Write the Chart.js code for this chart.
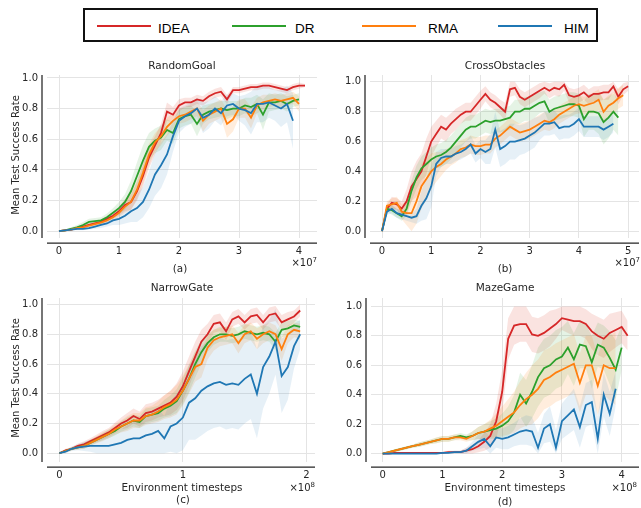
<!DOCTYPE html>
<html>
<head>
<meta charset="utf-8">
<title>IDEA vs DR vs RMA vs HIM</title>
<script src="https://cdn.jsdelivr.net/npm/chart.js"></script>
<style>
  body { margin: 0; background: #fff; width: 641px; height: 508px; position: relative; overflow: hidden; font-family: "DejaVu Sans", sans-serif; color: #262626; }
  canvas { position: absolute; }
  .t { position: absolute; transform: translate(-50%, -50%); white-space: nowrap; font-size: 10.5px; }
  .lab { position: absolute; transform: translate(-50%, -50%); white-space: nowrap; font-size: 10.4px; }
  .off { position: absolute; transform: translate(-100%, -50%); white-space: nowrap; font-size: 10px; }
  .ylab { position: absolute; transform: translate(-50%, -50%) rotate(-90deg); white-space: nowrap; font-size: 10px; }
  #legend { position: absolute; left: 83px; top: 8px; width: 511px; height: 30px; border: 2px solid #111; }
  .lg-line { position: absolute; height: 2px; width: 54px; }
  .lg-text { position: absolute; transform: translateY(-50%); font-family: "Liberation Sans", Arial, sans-serif; font-size: 13.5px; color: #000; }
</style>
</head>
<body>
<div id="legend"></div>

<canvas id="cA" width="325" height="200" style="left:0px;top:60px"></canvas>
<canvas id="cB" width="318" height="200" style="left:323px;top:60px"></canvas>
<canvas id="cC" width="325" height="200" style="left:0px;top:283px"></canvas>
<canvas id="cD" width="317" height="200" style="left:324px;top:283px"></canvas>

<div class="t" style="left:182px;top:65px">RandomGoal</div>
<div class="t" style="left:505px;top:65px">CrossObstacles</div>
<div class="t" style="left:182px;top:287px">NarrowGate</div>
<div class="t" style="left:505px;top:287px">MazeGame</div>

<div class="ylab" style="left:15px;top:155px">Mean Test Success Rate</div>
<div class="ylab" style="left:15px;top:378px">Mean Test Success Rate</div>

<div class="off" style="left:317px;top:262px">×10<sup style="font-size:7px">7</sup></div>
<div class="off" style="left:640px;top:262px">×10<sup style="font-size:7px">7</sup></div>
<div class="off" style="left:315px;top:487px">×10<sup style="font-size:7px">8</sup></div>
<div class="off" style="left:637px;top:487px">×10<sup style="font-size:7px">8</sup></div>

<div class="lab" style="left:182px;top:487px">Environment timesteps</div>
<div class="lab" style="left:505px;top:487px">Environment timesteps</div>

<div class="lab" style="left:180px;top:268px">(a)</div>
<div class="lab" style="left:505px;top:268px">(b)</div>
<div class="lab" style="left:183px;top:499px">(c)</div>
<div class="lab" style="left:505px;top:501px">(d)</div>

<script>
const seriesNames = ['IDEA', 'DR', 'RMA', 'HIM'];
const seriesColors = ['#d62728', '#2ca02c', '#ff7f0e', '#1f77b4'];
const bandColors = ['rgba(226,80,60,0.16)', 'rgba(44,160,44,0.12)', 'rgba(255,127,14,0.14)', 'rgba(31,119,180,0.11)'];
const yTicks = [0, 0.2, 0.4, 0.6, 0.8, 1.0];

// (a) RandomGoal, x in units of 1e7
const xA = [0,0.1,0.2,0.3,0.4,0.5,0.6,0.7,0.8,0.9,1.0,1.1,1.2,1.3,1.4,1.5,1.6,1.7,1.8,1.9,2.0,2.1,2.2,2.3,2.4,2.5,2.6,2.7,2.8,2.9,3.0,3.1,3.2,3.3,3.4,3.5,3.6,3.7,3.8,3.9,4.0,4.1];
const xTicksA = [0, 1, 2, 3, 4];
const ideaA = [0,0.005,0.01,0.02,0.03,0.04,0.05,0.06,0.08,0.1,0.13,0.17,0.19,0.26,0.36,0.48,0.56,0.64,0.78,0.76,0.82,0.84,0.84,0.86,0.85,0.88,0.9,0.91,0.86,0.92,0.92,0.93,0.94,0.94,0.95,0.95,0.94,0.93,0.92,0.94,0.95,0.95];
const ideaSdA = [0,0.005,0.005,0.01,0.01,0.01,0.01,0.015,0.02,0.02,0.03,0.04,0.05,0.06,0.07,0.07,0.06,0.06,0.06,0.05,0.04,0.03,0.03,0.03,0.03,0.03,0.03,0.03,0.03,0.02,0.02,0.02,0.02,0.02,0.02,0.02,0.02,0.02,0.02,0.02,0.02,0.01];
const drA = [0,0.005,0.015,0.025,0.04,0.06,0.065,0.07,0.09,0.12,0.15,0.19,0.26,0.36,0.46,0.55,0.59,0.61,0.66,0.64,0.73,0.75,0.76,0.7,0.76,0.78,0.79,0.8,0.79,0.8,0.8,0.82,0.81,0.83,0.76,0.84,0.84,0.85,0.83,0.85,0.86];
const drSdA = [0,0.005,0.01,0.015,0.02,0.02,0.02,0.02,0.025,0.03,0.04,0.05,0.07,0.09,0.1,0.09,0.08,0.08,0.07,0.07,0.06,0.06,0.06,0.08,0.06,0.05,0.05,0.05,0.06,0.05,0.05,0.05,0.06,0.06,0.1,0.06,0.05,0.05,0.05,0.04,0.04];
const rmaA = [0,0.005,0.01,0.02,0.025,0.035,0.045,0.055,0.07,0.09,0.12,0.16,0.19,0.27,0.38,0.5,0.58,0.62,0.68,0.72,0.75,0.76,0.78,0.8,0.72,0.76,0.78,0.8,0.7,0.73,0.8,0.8,0.74,0.82,0.84,0.85,0.86,0.85,0.86,0.87,0.83];
const rmaSdA = [0,0.005,0.01,0.01,0.015,0.015,0.02,0.02,0.02,0.025,0.03,0.04,0.05,0.06,0.07,0.07,0.06,0.06,0.06,0.05,0.05,0.05,0.05,0.05,0.07,0.06,0.06,0.06,0.09,0.08,0.06,0.06,0.07,0.05,0.05,0.04,0.04,0.04,0.04,0.04,0.05];
const himA = [0,0.005,0.01,0.015,0.015,0.02,0.03,0.04,0.05,0.07,0.08,0.1,0.13,0.15,0.19,0.27,0.37,0.43,0.5,0.62,0.72,0.75,0.77,0.8,0.74,0.76,0.8,0.77,0.82,0.83,0.8,0.79,0.77,0.83,0.83,0.84,0.82,0.8,0.83,0.72];
const himSdA = [0,0.005,0.005,0.01,0.01,0.01,0.015,0.02,0.02,0.03,0.04,0.05,0.07,0.09,0.1,0.12,0.14,0.15,0.13,0.1,0.08,0.07,0.07,0.07,0.1,0.09,0.08,0.08,0.07,0.07,0.08,0.1,0.14,0.12,0.12,0.1,0.1,0.12,0.12,0.18];

// (b) CrossObstacles, x in units of 1e7
const xB = [0,0.1,0.2,0.3,0.4,0.5,0.6,0.7,0.8,0.9,1.0,1.1,1.2,1.3,1.4,1.5,1.6,1.7,1.8,1.9,2.0,2.1,2.2,2.3,2.4,2.5,2.6,2.7,2.8,2.9,3.0,3.1,3.2,3.3,3.4,3.5,3.6,3.7,3.8,3.9,4.0,4.1,4.2,4.3,4.4,4.5,4.6,4.7,4.8,4.9,5.0];
const xTicksB = [0, 1, 2, 3, 4, 5];
const ideaB = [0,0.15,0.19,0.18,0.15,0.2,0.3,0.35,0.4,0.5,0.6,0.65,0.7,0.68,0.72,0.75,0.78,0.8,0.8,0.84,0.88,0.92,0.88,0.86,0.83,0.8,0.95,0.96,0.9,0.88,0.9,0.92,0.94,0.96,0.94,0.96,0.95,0.98,0.91,0.9,0.91,0.93,0.9,0.92,0.92,0.93,0.93,0.97,0.9,0.95,0.97];
const ideaSdB = [0,0.03,0.04,0.04,0.05,0.08,0.1,0.12,0.12,0.12,0.1,0.09,0.08,0.08,0.07,0.07,0.06,0.06,0.06,0.06,0.06,0.05,0.05,0.05,0.05,0.06,0.05,0.05,0.05,0.05,0.05,0.05,0.05,0.04,0.05,0.05,0.05,0.04,0.05,0.05,0.05,0.05,0.05,0.05,0.05,0.05,0.05,0.04,0.05,0.04,0.03];
const drB = [0,0.15,0.14,0.12,0.1,0.15,0.27,0.36,0.42,0.45,0.48,0.5,0.51,0.53,0.56,0.6,0.64,0.68,0.7,0.7,0.72,0.74,0.73,0.74,0.74,0.75,0.76,0.8,0.8,0.82,0.82,0.84,0.86,0.87,0.8,0.82,0.83,0.84,0.85,0.85,0.84,0.75,0.8,0.8,0.79,0.73,0.76,0.8,0.76];
const drSdB = [0,0.02,0.03,0.03,0.03,0.05,0.07,0.08,0.08,0.08,0.08,0.08,0.08,0.08,0.08,0.08,0.08,0.08,0.08,0.08,0.08,0.08,0.08,0.08,0.08,0.08,0.08,0.08,0.08,0.08,0.08,0.08,0.07,0.07,0.08,0.08,0.08,0.08,0.08,0.08,0.08,0.12,0.12,0.12,0.14,0.15,0.14,0.12,0.12];
const rmaB = [0,0.17,0.18,0.19,0.13,0.12,0.12,0.2,0.3,0.35,0.4,0.43,0.45,0.48,0.5,0.52,0.55,0.56,0.58,0.57,0.57,0.58,0.58,0.62,0.64,0.67,0.7,0.68,0.66,0.67,0.68,0.7,0.72,0.74,0.73,0.75,0.78,0.8,0.82,0.84,0.85,0.84,0.85,0.86,0.88,0.8,0.84,0.86,0.89,0.91];
const rmaSdB = [0,0.03,0.04,0.04,0.05,0.08,0.12,0.15,0.15,0.14,0.12,0.1,0.08,0.07,0.06,0.06,0.06,0.06,0.06,0.06,0.06,0.06,0.06,0.06,0.06,0.06,0.06,0.06,0.06,0.06,0.06,0.06,0.06,0.06,0.06,0.06,0.06,0.06,0.06,0.06,0.06,0.06,0.06,0.07,0.07,0.08,0.07,0.07,0.07,0.07];
const himB = [0,0.13,0.15,0.12,0.11,0.1,0.09,0.1,0.17,0.22,0.3,0.45,0.49,0.5,0.5,0.52,0.53,0.55,0.58,0.52,0.55,0.53,0.55,0.68,0.55,0.57,0.6,0.6,0.61,0.62,0.64,0.66,0.69,0.72,0.72,0.73,0.69,0.7,0.7,0.72,0.75,0.7,0.7,0.7,0.7,0.68,0.7,0.72];
const himSdB = [0,0.02,0.03,0.03,0.03,0.03,0.03,0.05,0.1,0.14,0.14,0.08,0.06,0.05,0.05,0.05,0.05,0.05,0.06,0.06,0.06,0.08,0.1,0.12,0.12,0.12,0.12,0.12,0.1,0.1,0.1,0.1,0.08,0.08,0.08,0.08,0.08,0.08,0.08,0.08,0.08,0.07,0.07,0.07,0.07,0.07,0.07,0.06];

// (c) NarrowGate, x in units of 1e8
const xC = [0,0.05,0.1,0.15,0.2,0.25,0.3,0.35,0.4,0.45,0.5,0.55,0.6,0.65,0.7,0.75,0.8,0.85,0.9,0.95,1.0,1.05,1.1,1.15,1.2,1.25,1.3,1.35,1.4,1.45,1.5,1.55,1.6,1.65,1.7,1.75,1.8,1.85,1.9,1.95];
const xTicksC = [0, 1, 2];
const ideaC = [0,0.02,0.03,0.05,0.06,0.08,0.1,0.12,0.14,0.17,0.2,0.22,0.25,0.23,0.27,0.28,0.3,0.32,0.34,0.38,0.45,0.55,0.65,0.75,0.8,0.87,0.88,0.82,0.9,0.92,0.88,0.92,0.93,0.88,0.93,0.94,0.88,0.9,0.92,0.96];
const ideaSdC = [0,0.01,0.01,0.015,0.02,0.02,0.025,0.03,0.03,0.035,0.04,0.05,0.05,0.05,0.06,0.06,0.06,0.07,0.08,0.09,0.1,0.1,0.1,0.08,0.07,0.06,0.06,0.06,0.05,0.05,0.05,0.05,0.05,0.05,0.05,0.05,0.05,0.05,0.04,0.04];
const drC = [0,0.015,0.03,0.04,0.05,0.07,0.09,0.11,0.13,0.15,0.18,0.2,0.22,0.21,0.25,0.26,0.27,0.3,0.32,0.35,0.42,0.5,0.6,0.68,0.74,0.78,0.8,0.8,0.79,0.8,0.82,0.81,0.8,0.81,0.8,0.75,0.83,0.84,0.86,0.85];
const drSdC = [0,0.01,0.01,0.015,0.02,0.02,0.02,0.025,0.03,0.03,0.035,0.04,0.04,0.04,0.05,0.05,0.05,0.06,0.07,0.08,0.09,0.09,0.09,0.08,0.06,0.05,0.05,0.05,0.05,0.05,0.05,0.05,0.05,0.05,0.05,0.06,0.05,0.05,0.04,0.04];
const rmaC = [0,0.015,0.03,0.04,0.05,0.07,0.09,0.11,0.13,0.16,0.18,0.2,0.22,0.22,0.25,0.26,0.28,0.31,0.33,0.36,0.42,0.5,0.58,0.6,0.71,0.76,0.78,0.79,0.8,0.74,0.8,0.82,0.77,0.8,0.82,0.8,0.7,0.8,0.83,0.82];
const rmaSdC = [0,0.01,0.01,0.015,0.02,0.02,0.025,0.03,0.03,0.035,0.04,0.05,0.05,0.05,0.06,0.06,0.07,0.08,0.09,0.1,0.1,0.1,0.1,0.09,0.08,0.07,0.06,0.06,0.06,0.07,0.06,0.06,0.07,0.06,0.06,0.06,0.08,0.06,0.05,0.05];
const himC = [0,0.01,0.03,0.04,0.045,0.05,0.05,0.05,0.05,0.06,0.07,0.09,0.1,0.1,0.12,0.13,0.15,0.1,0.18,0.2,0.24,0.34,0.37,0.42,0.45,0.47,0.48,0.46,0.47,0.46,0.5,0.53,0.4,0.58,0.65,0.75,0.52,0.58,0.72,0.8];
const himSdC = [0,0.01,0.015,0.02,0.03,0.04,0.05,0.06,0.07,0.08,0.09,0.1,0.11,0.12,0.13,0.14,0.15,0.15,0.17,0.2,0.22,0.25,0.28,0.3,0.3,0.3,0.3,0.3,0.3,0.3,0.3,0.3,0.3,0.28,0.25,0.22,0.25,0.22,0.15,0.1];

// (d) MazeGame, x in units of 1e8
const xD = [0,0.1,0.2,0.3,0.4,0.5,0.6,0.7,0.8,0.9,1.0,1.1,1.2,1.3,1.4,1.5,1.6,1.7,1.8,1.9,2.0,2.1,2.2,2.3,2.4,2.5,2.6,2.7,2.8,2.9,3.0,3.1,3.2,3.3,3.4,3.5,3.6,3.7,3.8,3.9,4.0,4.1];
const xTicksD = [0, 1, 2, 3, 4];
const ideaD = [0,0,0.005,0.005,0.005,0.005,0.005,0.005,0.005,0.005,0.005,0.01,0.01,0.01,0.02,0.03,0.05,0.08,0.12,0.22,0.42,0.78,0.87,0.88,0.88,0.81,0.8,0.82,0.85,0.88,0.92,0.91,0.9,0.9,0.88,0.83,0.8,0.78,0.82,0.84,0.86,0.8];
const ideaSdD = [0,0,0.005,0.005,0.005,0.005,0.005,0.005,0.005,0.005,0.005,0.01,0.01,0.01,0.02,0.03,0.04,0.06,0.08,0.12,0.15,0.14,0.13,0.12,0.12,0.12,0.12,0.12,0.12,0.1,0.08,0.09,0.1,0.1,0.1,0.12,0.13,0.13,0.13,0.12,0.11,0.1];
const drD = [0,0.01,0.02,0.03,0.04,0.05,0.06,0.07,0.08,0.09,0.1,0.1,0.11,0.12,0.11,0.12,0.14,0.15,0.16,0.17,0.19,0.22,0.28,0.4,0.34,0.42,0.52,0.58,0.6,0.64,0.66,0.72,0.64,0.74,0.73,0.62,0.74,0.72,0.65,0.57,0.72];
const drSdD = [0,0.005,0.01,0.01,0.01,0.01,0.015,0.015,0.015,0.02,0.02,0.02,0.02,0.02,0.02,0.03,0.04,0.05,0.06,0.07,0.08,0.1,0.12,0.15,0.16,0.18,0.2,0.2,0.2,0.2,0.2,0.18,0.18,0.16,0.15,0.18,0.15,0.15,0.18,0.2,0.15];
const rmaD = [0,0.01,0.02,0.03,0.04,0.05,0.06,0.07,0.08,0.09,0.1,0.1,0.11,0.11,0.1,0.12,0.14,0.15,0.17,0.19,0.22,0.25,0.28,0.33,0.37,0.4,0.44,0.5,0.52,0.55,0.57,0.59,0.61,0.48,0.6,0.6,0.46,0.6,0.58,0.58];
const rmaSdD = [0,0.005,0.01,0.01,0.01,0.01,0.015,0.015,0.015,0.02,0.02,0.02,0.02,0.02,0.02,0.03,0.04,0.05,0.06,0.08,0.1,0.12,0.14,0.16,0.18,0.2,0.2,0.2,0.2,0.2,0.2,0.2,0.2,0.2,0.2,0.2,0.2,0.2,0.22,0.25];
const himD = [0,0,0,0,0,0,0,0,0,0,0.005,0.005,0.01,0.01,0.02,0.05,0.08,0.1,0.05,0.11,0.1,0.11,0.13,0.15,0.16,0.15,0.04,0.17,0.2,0.04,0.22,0.26,0.3,0.18,0.33,0.35,0.1,0.4,0.27,0.44];
const himSdD = [0,0,0,0,0,0,0,0,0,0,0.005,0.005,0.01,0.01,0.02,0.03,0.05,0.06,0.06,0.07,0.07,0.08,0.08,0.09,0.1,0.1,0.1,0.1,0.12,0.12,0.12,0.13,0.14,0.14,0.15,0.15,0.15,0.15,0.15,0.12];

const panels = [
  { id: 'cA', x: xA, xTicks: xTicksA, means: [ideaA, drA, rmaA, himA], spreads: [ideaSdA, drSdA, rmaSdA, himSdA],
    xMin: -0.2, xMax: 4.3, yMin: -0.045, yMax: 1.019, pad: { top: 11, right: 8 }, xh: 22 },
  { id: 'cB', x: xB, xTicks: xTicksB, means: [ideaB, drB, rmaB, himB], spreads: [ideaSdB, drSdB, rmaSdB, himSdB],
    xMin: -0.244, xMax: 5.22, yMin: -0.046, yMax: 1.046, pad: { top: 12, right: 2 }, xh: 22 },
  { id: 'cC', x: xC, xTicks: xTicksC, means: [ideaC, drC, rmaC, himC], spreads: [ideaSdC, drSdC, rmaSdC, himSdC],
    xMin: -0.1, xMax: 2.07, yMin: -0.059, yMax: 1.044, pad: { top: 10, right: 10 }, xh: 21 },
  { id: 'cD', x: xD, xTicks: xTicksD, means: [ideaD, drD, rmaD, himD], spreads: [ideaSdD, drSdD, rmaSdD, himSdD],
    xMin: -0.196, xMax: 4.29, yMin: -0.057, yMax: 1.057, pad: { top: 10, right: 2 }, xh: 21 }
];

// legend
const legend = document.getElementById('legend');
const lgLine = [12, 147, 277, 413];
const lgText = [73, 210, 343, 479];
seriesNames.forEach((name, s) => {
  const l = document.createElement('div');
  l.className = 'lg-line';
  l.style.left = lgLine[s] + 'px';
  l.style.top = '15px';
  l.style.background = seriesColors[s];
  legend.appendChild(l);
  const t = document.createElement('div');
  t.className = 'lg-text';
  t.style.left = lgText[s] + 'px';
  t.style.top = '18px';
  t.textContent = name;
  legend.appendChild(t);
});

// offset (despined) axis lines
const spines = {
  id: 'spines',
  afterDraw(chart) {
    const { ctx, chartArea: a } = chart;
    ctx.save();
    ctx.strokeStyle = '#262626';
    ctx.lineWidth = 1.25;
    ctx.beginPath();
    ctx.moveTo(a.left - 5, a.top);
    ctx.lineTo(a.left - 5, a.bottom);
    ctx.moveTo(a.left, a.bottom + 5);
    ctx.lineTo(a.right, a.bottom + 5);
    ctx.stroke();
    ctx.restore();
  }
};

const tickFont = { family: 'DejaVu Sans', size: 10 };

panels.forEach(p => {
  const datasets = [];
  seriesNames.forEach((name, s) => {
    datasets.push({
      label: name,
      data: p.means[s].map((v, i) => ({ x: p.x[i], y: v })),
      borderColor: seriesColors[s],
      borderWidth: 1.8,
      pointRadius: 0,
      fill: false,
      order: 3 - s
    });
  });
  seriesNames.forEach((name, s) => {
    const m = p.means[s], sd = p.spreads[s];
    const lowIdx = datasets.length;
    datasets.push({
      data: m.map((v, i) => ({ x: p.x[i], y: Math.max(0, v - sd[i]) })),
      borderWidth: 0, borderColor: 'rgba(0,0,0,0)', pointRadius: 0, fill: false, order: 20 - s
    });
    datasets.push({
      data: m.map((v, i) => ({ x: p.x[i], y: Math.min(1, v + sd[i]) })),
      borderWidth: 0, borderColor: 'rgba(0,0,0,0)', pointRadius: 0,
      backgroundColor: bandColors[s], fill: lowIdx, order: 20 - s
    });
  });

  new Chart(document.getElementById(p.id), {
    type: 'line',
    data: { datasets },
    options: {
      responsive: false,
      animation: false,
      devicePixelRatio: 1,
      layout: { padding: { top: p.pad.top, right: p.pad.right, left: 0, bottom: 0 } },
      plugins: { legend: { display: false }, tooltip: { enabled: false } },
      scales: {
        x: {
          type: 'linear', min: p.xMin, max: p.xMax,
          afterBuildTicks: sc => { sc.ticks = p.xTicks.map(v => ({ value: v })); },
          afterFit: sc => { sc.height = p.xh; },
          grid: { color: '#e4e4e4', lineWidth: 1, drawTicks: false },
          border: { display: false },
          ticks: { padding: 7, color: '#262626', font: tickFont, autoSkip: false, maxRotation: 0, callback: v => String(v) }
        },
        y: {
          min: p.yMin, max: p.yMax,
          afterBuildTicks: sc => { sc.ticks = yTicks.map(v => ({ value: v })); },
          afterFit: sc => { sc.width = 47; },
          grid: { color: '#e4e4e4', lineWidth: 1, drawTicks: false },
          border: { display: false },
          ticks: { padding: 9, color: '#262626', font: tickFont, callback: v => v.toFixed(1) }
        }
      }
    },
    plugins: [spines]
  });
});
</script>
</body>
</html>
